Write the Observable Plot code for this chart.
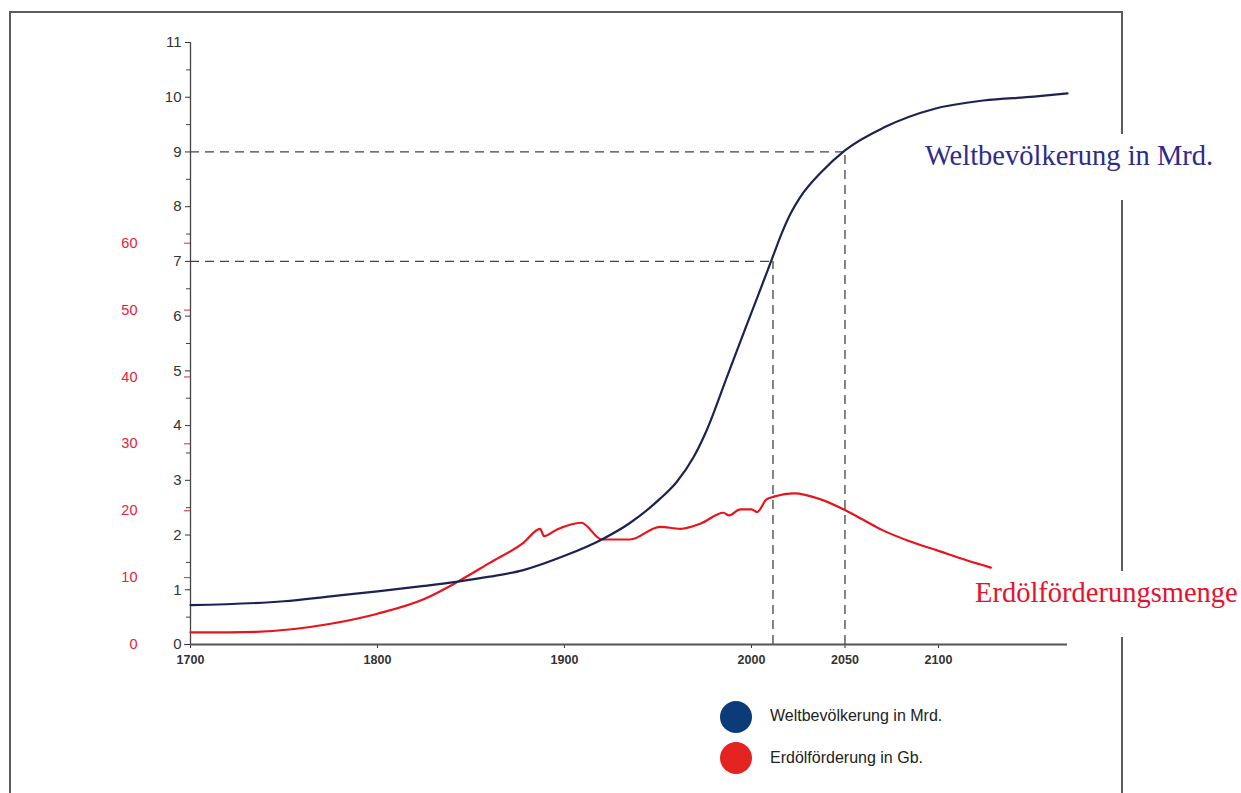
<!DOCTYPE html>
<html>
<head>
<meta charset="utf-8">
<script src="https://cdn.jsdelivr.net/npm/d3@7"></script>
<script src="https://cdn.jsdelivr.net/npm/@observablehq/plot@0.6"></script>
<style>
  html, body { margin: 0; padding: 0; background: #fff; overflow: hidden; }
  #wrap { position: relative; width: 1241px; height: 793px; }
  #frame { position: absolute; left: 9px; top: 11px; width: 1110px; height: 820px; border: 2px solid #5c5c5c; }
  #chart { position: absolute; left: 0; top: 0; }
  .lab { position: absolute; font-family: "Liberation Serif", "Times New Roman", serif; font-size: 28.5px; line-height: 28px; background: #fff; padding: 8px 4px 30px 4px; white-space: nowrap; }
  .leg { position: absolute; font-family: "Liberation Sans", Arial, sans-serif; font-size: 16px; line-height: 16px; color: #222; white-space: nowrap; }
  .dot { position: absolute; width: 32px; height: 32px; border-radius: 50%; }
</style>
</head>
<body>
<div id="wrap">
  <div id="frame"></div>
  <div id="chart"></div>
  <div class="lab" id="labPop" style="left:921px; top:134px; color:#2e2b8e;"></div>
  <div class="lab" id="labOil" style="left:971px; top:571px; color:#e8112d;"></div>
  <div class="dot" style="left:720px; top:701px; background:#0c3b7a;"></div>
  <div class="dot" style="left:720px; top:742px; background:#e52421;"></div>
  <div class="leg" id="legPop" style="left:770px; top:708px;"></div>
  <div class="leg" id="legOil" style="left:770px; top:750px;"></div>
</div>
<script>
// ---- data ----
const popYears = [1700, 1750, 1775, 1800, 1825, 1843, 1860, 1878, 1900, 1920, 1935, 1951, 1960, 1969, 1976, 1987, 1997, 2004, 2011, 2016, 2021, 2026, 2037, 2050, 2071, 2098, 2124, 2151, 2169];
const popValues = [0.72, 0.79, 0.88, 0.97, 1.07, 1.15, 1.24, 1.36, 1.62, 1.92, 2.22, 2.66, 2.97, 3.42, 3.91, 4.9, 5.8, 6.42, 7.05, 7.5, 7.88, 8.17, 8.62, 9.03, 9.45, 9.79, 9.94, 10.01, 10.07];

const oilYears = [1700, 1735, 1775, 1800, 1825, 1843, 1860, 1878, 1887, 1889, 1896, 1909, 1920, 1935, 1951, 1962, 1973, 1985, 1988, 1994, 2000, 2003, 2008, 2012, 2023, 2037, 2050, 2060, 2070, 2085, 2100, 2115, 2128];
const oilValues = [1.8, 1.9, 3.1, 4.6, 6.8, 9.4, 12.2, 15.2, 17.3, 16.2, 17.2, 18.2, 15.7, 15.7, 17.6, 17.3, 18.1, 19.7, 19.3, 20.2, 20.2, 19.8, 21.7, 22.1, 22.6, 21.7, 20.1, 18.6, 17.1, 15.4, 14.0, 12.6, 11.5];

const xTicks = [1700, 1800, 1900, 2000, 2050, 2100];
const popTicks = [0, 1, 2, 3, 4, 5, 6, 7, 8, 9, 10, 11];
const popMinorTicks = [0.5, 1.5, 2.5, 3.5, 4.5, 5.5, 6.5, 7.5, 8.5, 9.5, 10.5];
const oilTicks = [0, 10, 20, 30, 40, 50, 60];

const guideYears = [2050, 2011.5];
const guideValues = [9, 7];

const labelPop = "Weltbevölkerung in Mrd.";
const labelOil = "Erdölförderungsmenge";
const legendPop = "Weltbevölkerung in Mrd.";
const legendOil = "Erdölförderung in Gb.";

// ---- build ----
const oilToPop = 11 / 90; // secondary axis: 0..90 Gb spans 0..11 Mrd.
const pop = popYears.map((y, i) => ({year: y, value: popValues[i]}));
const oil = oilYears.map((y, i) => ({year: y, value: oilValues[i]}));
const guides = guideYears.map((y, i) => ({year: y, value: guideValues[i]}));

const chart = Plot.plot({
  width: 1241,
  height: 680,
  marginLeft: 190,
  marginRight: 174,
  marginTop: 42,
  marginBottom: 36,
  x: {domain: [1700, 2169], label: null},
  y: {domain: [0, 11], label: null},
  style: {background: "transparent", fontFamily: "'Liberation Sans', Arial, sans-serif", overflow: "visible"},
  marks: [
    Plot.ruleY(guides, {y: "value", x1: 1700, x2: "year", stroke: "#444", strokeWidth: 1.3, strokeDasharray: "9,6"}),
    Plot.ruleX(guides, {x: "year", y1: 0, y2: "value", stroke: "#444", strokeWidth: 1.3, strokeDasharray: "9,6"}),
    Plot.axisY(popMinorTicks, {anchor: "left", tickSize: 4, text: null, stroke: "#444", label: null}),
    Plot.axisY(oilTicks.map(v => v * oilToPop), {anchor: "left", tickSize: 6, tickPadding: 47, color: "#e8203a", fontSize: 14.5, label: null, tickFormat: d => String(Math.round(d / oilToPop))}),
    Plot.axisY(popTicks, {anchor: "left", tickSize: 5, tickPadding: 4, color: "#333", fontSize: 15, label: null, tickFormat: d => String(d)}),
    Plot.axisX(xTicks, {anchor: "bottom", tickSize: 4, tickPadding: 7, color: "#333", fontSize: 12.5, fontWeight: "bold", label: null, tickFormat: d => String(d)}),
    Plot.ruleX([1700], {stroke: "#444", strokeWidth: 1.3}),
    Plot.ruleY([0], {stroke: "#555", strokeWidth: 1.8}),
    Plot.line(oil, {x: "year", y: d => d.value * oilToPop, stroke: "#e8141c", strokeWidth: 2.2, curve: "monotone-x"}),
    Plot.line(pop, {x: "year", y: "value", stroke: "#1c2352", strokeWidth: 2.2, curve: "monotone-x"})
  ]
});
document.getElementById("chart").appendChild(chart);
document.getElementById("labPop").textContent = labelPop;
document.getElementById("labOil").textContent = labelOil;
document.getElementById("legPop").textContent = legendPop;
document.getElementById("legOil").textContent = legendOil;
</script>
</body>
</html>
